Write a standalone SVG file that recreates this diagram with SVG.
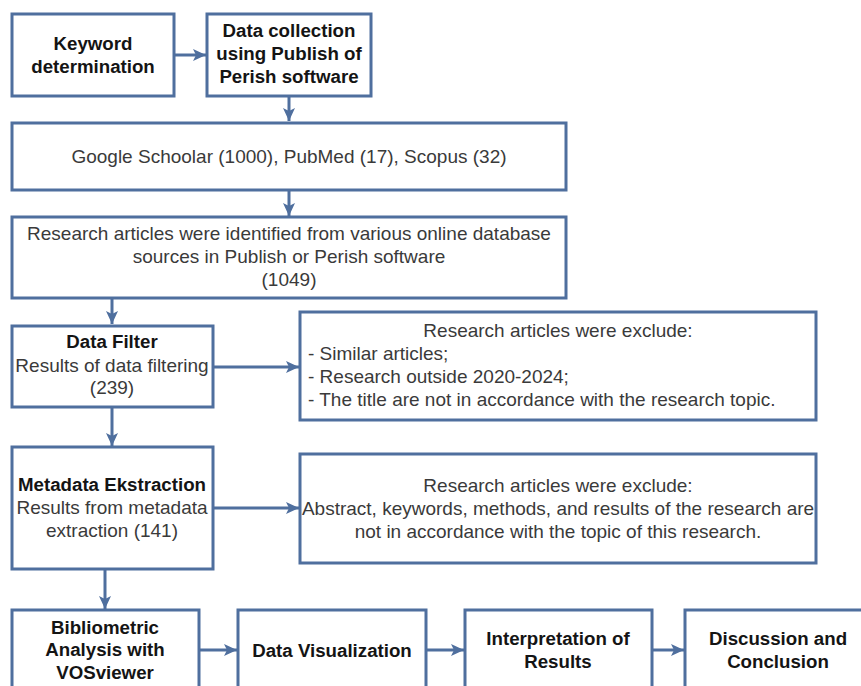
<svg xmlns="http://www.w3.org/2000/svg" width="861" height="686" viewBox="0 0 861 686">
<style>
rect.b{fill:#fff;stroke:#4f6f9e;stroke-width:3}
text{font-family:"Liberation Sans",Arial,sans-serif;text-anchor:middle}
.n{font-size:19px;fill:#3a3a3a}
.h{font-size:18.7px;font-weight:bold;fill:#141414}
.l{text-anchor:start}
#connectors line{stroke:#4f6f9e;stroke-width:3;marker-end:url(#ah)}
</style>
<defs>
<marker id="ah" markerUnits="userSpaceOnUse" markerWidth="14" markerHeight="14" refX="13" refY="6" orient="auto">
<path d="M0,0 L13,6 L0,12 L3,6 z" fill="#4f6f9e"/>
</marker>
</defs>
<rect width="861" height="686" fill="#fff"/>
<g id="connectors">
<line x1="174" y1="55" x2="206" y2="55"/>
<line x1="289" y1="96" x2="289" y2="121"/>
<line x1="289" y1="190" x2="289" y2="216"/>
<line x1="112" y1="298" x2="112" y2="324"/>
<line x1="213" y1="367" x2="299" y2="367"/>
<line x1="112" y1="407" x2="112" y2="446"/>
<line x1="213" y1="508" x2="299" y2="508"/>
<line x1="105" y1="569" x2="105" y2="609"/>
<line x1="199" y1="650" x2="237" y2="650"/>
<line x1="426" y1="650" x2="464" y2="650"/>
<line x1="652" y1="650" x2="684" y2="650"/>
</g>
<g id="keyword">
<rect class="b" x="12" y="14" width="162" height="82"/>
<text class="h" x="93" y="50">Keyword</text>
<text class="h" x="93" y="73">determination</text>
</g>
<g id="collection">
<rect class="b" x="207" y="14" width="164" height="82"/>
<text class="h" x="289" y="37">Data collection</text>
<text class="h" x="289" y="60">using Publish of</text>
<text class="h" x="289" y="83">Perish software</text>
</g>
<g id="sources">
<rect class="b" x="12" y="123" width="554" height="67"/>
<text class="n" x="289" y="163">Google Schoolar (1000), PubMed (17), Scopus (32)</text>
</g>
<g id="identified">
<rect class="b" x="12" y="217" width="554" height="81"/>
<text class="n" x="289" y="240">Research articles were identified from various online database</text>
<text class="n" x="289" y="263">sources in Publish or Perish software</text>
<text class="n" x="289" y="286">(1049)</text>
</g>
<g id="filter">
<rect class="b" x="12" y="326" width="201" height="81"/>
<text class="h" x="112" y="348">Data Filter</text>
<text class="n" x="112" y="372">Results of data filtering</text>
<text class="n" x="112" y="394">(239)</text>
</g>
<g id="exclude1">
<rect class="b" x="300" y="312" width="516" height="108"/>
<text class="n" x="558" y="337">Research articles were exclude:</text>
<text class="n l" x="308" y="360">- Similar articles;</text>
<text class="n l" x="308" y="383">- Research outside 2020-2024;</text>
<text class="n l" x="308" y="406">- The title are not in accordance with the research topic.</text>
</g>
<g id="extraction">
<rect class="b" x="12" y="447" width="201" height="122"/>
<text class="h" x="112" y="491">Metadata Ekstraction</text>
<text class="n" x="112" y="514">Results from metadata</text>
<text class="n" x="112" y="537">extraction (141)</text>
</g>
<g id="exclude2">
<rect class="b" x="300" y="454" width="516" height="109"/>
<text class="n" x="558" y="492">Research articles were exclude:</text>
<text class="n" x="558" y="515">Abstract, keywords, methods, and results of the research are</text>
<text class="n" x="558" y="538">not in accordance with the topic of this research.</text>
</g>
<g id="bibliometric">
<rect class="b" x="12" y="610" width="187" height="100"/>
<text class="h" x="105" y="634">Bibliometric</text>
<text class="h" x="105" y="656">Analysis with</text>
<text class="h" x="105" y="679">VOSviewer</text>
</g>
<g id="visualization">
<rect class="b" x="238" y="610" width="188" height="100"/>
<text class="h" x="332" y="657">Data Visualization</text>
</g>
<g id="interpretation">
<rect class="b" x="465" y="610" width="187" height="100"/>
<text class="h" x="558" y="645">Interpretation of</text>
<text class="h" x="558" y="668">Results</text>
</g>
<g id="discussion">
<rect class="b" x="685" y="610" width="200" height="100"/>
<text class="h" x="778" y="645">Discussion and</text>
<text class="h" x="778" y="668">Conclusion</text>
</g>
</svg>
